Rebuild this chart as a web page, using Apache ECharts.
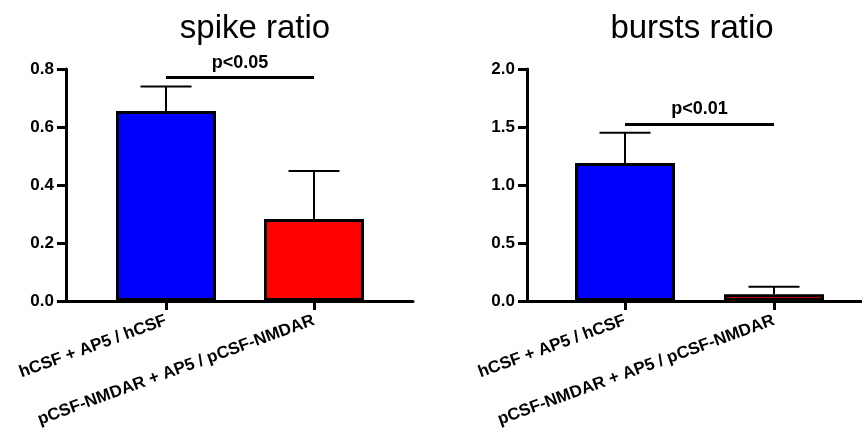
<!DOCTYPE html>
<html>
<head>
<meta charset="utf-8">
<script src="https://cdn.jsdelivr.net/npm/echarts@6/dist/echarts.min.js"></script>
<style>
  html, body { margin: 0; padding: 0; background: #fff; }
  #chart { width: 862px; height: 435px; }
</style>
</head>
<body>
<div id="chart"></div>
<script>
const categories = ['hCSF + AP5 / hCSF', 'pCSF-NMDAR + AP5 / pCSF-NMDAR']
const spikeMean = [0.655, 0.283]
const spikeErr = [0.085, 0.165]
const burstMean = [1.19, 0.058]
const burstErr = [0.26, 0.065]
const spikeAxis = { min: 0, max: 0.8, interval: 0.2 }
const burstAxis = { min: 0, max: 2.0, interval: 0.5 }
const spikeSig = { label: 'p<0.05', level: 0.77 }
const burstSig = { label: 'p<0.01', level: 1.526 }
const barColors = ['#0000ff', '#ff0000']

const FONT = '"Liberation Sans", Arial, sans-serif'

// frame axis: the value axis with ticks and long baseline
function frameY (idx, range) {
  return {
    type: 'value', gridIndex: idx, min: range.min, max: range.max, interval: range.interval,
    axisLine: { show: true, lineStyle: { color: '#000', width: 3 } },
    axisTick: { show: true, length: 9, lineStyle: { color: '#000', width: 3 } },
    axisLabel: { margin: 12, color: '#000', fontSize: 17, fontWeight: 'bold', fontFamily: FONT,
      formatter: v => v.toFixed(1) },
    splitLine: { show: false }
  }
}
function frameX (idx) {
  return {
    type: 'value', gridIndex: idx, min: 0, max: 1,
    axisLine: { show: true, lineStyle: { color: '#000', width: 3 } },
    axisTick: { show: false }, axisLabel: { show: false }, splitLine: { show: false }
  }
}
function catX (idx) {
  return {
    type: 'category', gridIndex: idx, data: categories,
    axisLine: { show: false },
    axisTick: { show: true, alignWithLabel: true, length: 9, lineStyle: { color: '#000', width: 3 } },
    axisLabel: { rotate: 20, margin: 19, interval: 0, color: '#000', fontSize: 17, fontWeight: 'bold', fontFamily: FONT }
  }
}
function hiddenY (idx, range) {
  return { type: 'value', gridIndex: idx, min: range.min, max: range.max, show: false }
}

function barSeries (idx, mean, sig) {
  return {
    type: 'bar', xAxisIndex: idx, yAxisIndex: idx, barWidth: 100, z: 3,
    data: mean.map((v, i) => ({ value: v, itemStyle: { color: barColors[i] } })),
    itemStyle: { borderColor: '#000', borderWidth: 3 },
    markLine: {
      silent: true,
      symbol: ['none', 'none'],
      lineStyle: { color: '#000', width: 3, type: 'solid' },
      label: { show: true, position: 'insideMiddleTop', distance: 6, formatter: sig.label,
        color: '#000', fontSize: 18, fontWeight: 'bold', fontFamily: FONT },
      data: [[{ coord: [0, sig.level] }, { coord: [1, sig.level] }]]
    }
  }
}

function errSeries (idx, mean, err) {
  return {
    type: 'custom', xAxisIndex: idx, yAxisIndex: idx, z: 2, silent: true,
    data: mean.map((v, i) => [i, v, err[i]]),
    renderItem: (params, api) => {
      const base = api.coord([api.value(0), api.value(1)])
      const top = api.coord([api.value(0), api.value(1) + api.value(2)])
      const style = { stroke: '#000', lineWidth: 2 }
      return {
        type: 'group',
        children: [
          { type: 'line', shape: { x1: base[0], y1: base[1], x2: top[0], y2: top[1] }, style },
          { type: 'line', shape: { x1: top[0] - 25.5, y1: top[1], x2: top[0] + 25.5, y2: top[1] }, style }
        ]
      }
    }
  }
}

let chart = echarts.init(document.getElementById('chart'), null, { renderer: 'canvas' })
chart.setOption({
  animation: false,
  backgroundColor: '#fff',
  title: [
    { text: 'spike ratio', left: 250, top: 7, textAlign: 'center',
      textStyle: { color: '#000', fontSize: 33, fontWeight: 'normal', fontFamily: FONT } },
    { text: 'bursts ratio', left: 687, top: 7, textAlign: 'center',
      textStyle: { color: '#000', fontSize: 33, fontWeight: 'normal', fontFamily: FONT } }
  ],
  grid: [
    { left: 66, top: 69, width: 347, height: 232 },
    { left: 92, top: 69, width: 296, height: 232 },
    { left: 527, top: 69, width: 335, height: 232 },
    { left: 550.5, top: 69, width: 298, height: 232 }
  ],
  xAxis: [frameX(0), catX(1), frameX(2), catX(3)],
  yAxis: [frameY(0, spikeAxis), hiddenY(1, spikeAxis), frameY(2, burstAxis), hiddenY(3, burstAxis)],
  series: [
    barSeries(1, spikeMean, spikeSig),
    errSeries(1, spikeMean, spikeErr),
    barSeries(3, burstMean, burstSig),
    errSeries(3, burstMean, burstErr)
  ]
})
</script>
</body>
</html>
